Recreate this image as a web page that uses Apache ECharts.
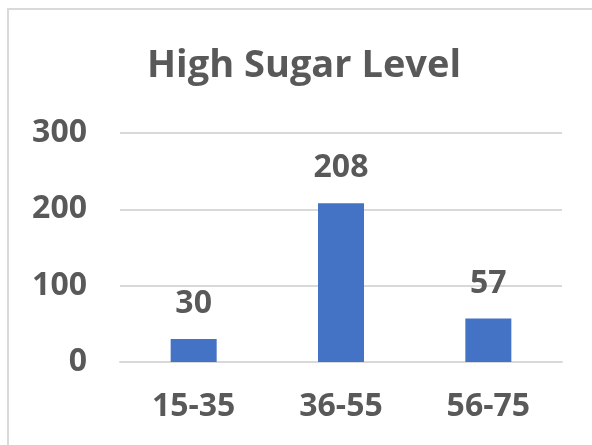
<!DOCTYPE html>
<html>
<head>
<meta charset="utf-8">
<script src="https://cdn.jsdelivr.net/npm/echarts@6/dist/echarts.min.js"></script>
<style>
  html, body { margin: 0; padding: 0; background: #fff; }
  #chart { width: 592px; height: 445px; }
</style>
</head>
<body>
<div id="chart"></div>
<script>
var categories = ['15-35', '36-55', '56-75'];
var values = [30, 208, 57];
var yTicks = [0, 100, 200, 300];

var textColor = '#595959';
var font = '"Open Sans", "Noto Sans", sans-serif';

var chart = echarts.init(document.getElementById('chart'));

var option = {
  animation: false,
  textStyle: { fontFamily: font },
  title: {
    text: 'High Sugar Level',
    left: 142,
    top: 42,
    textStyle: {
      fontFamily: font,
      fontSize: 38,
      fontWeight: 'bold',
      color: textColor
    }
  },
  graphic: [{
    type: 'rect',
    shape: { x: 8, y: 9, width: 620, height: 480 },
    style: { fill: 'none', stroke: '#d9d9d9', lineWidth: 2 },
    silent: true
  }],
  grid: {
    left: 120,
    right: 30,
    top: 133,
    bottom: 83
  },
  xAxis: {
    type: 'category',
    data: categories,
    axisLine: { lineStyle: { color: '#d9d9d9', width: 2 } },
    axisTick: { show: false },
    axisLabel: {
      margin: 29,
      fontSize: 32,
      fontWeight: 'bold',
      color: textColor,
      fontFamily: font
    }
  },
  yAxis: {
    type: 'value',
    min: yTicks[0],
    max: yTicks[yTicks.length - 1],
    interval: 100,
    axisLine: { show: false },
    axisTick: { show: false },
    splitLine: { lineStyle: { color: '#d9d9d9', width: 2 } },
    axisLabel: {
      margin: 33,
      fontSize: 32,
      fontWeight: 'bold',
      color: textColor,
      fontFamily: font
    }
  },
  series: [{
    type: 'bar',
    data: values,
    barWidth: 46,
    itemStyle: { color: '#4472C4' },
    label: {
      show: true,
      position: 'top',
      distance: 19,
      fontSize: 32,
      fontWeight: 'bold',
      color: textColor,
      fontFamily: font
    }
  }]
};

chart.setOption(option);
</script>
</body>
</html>
